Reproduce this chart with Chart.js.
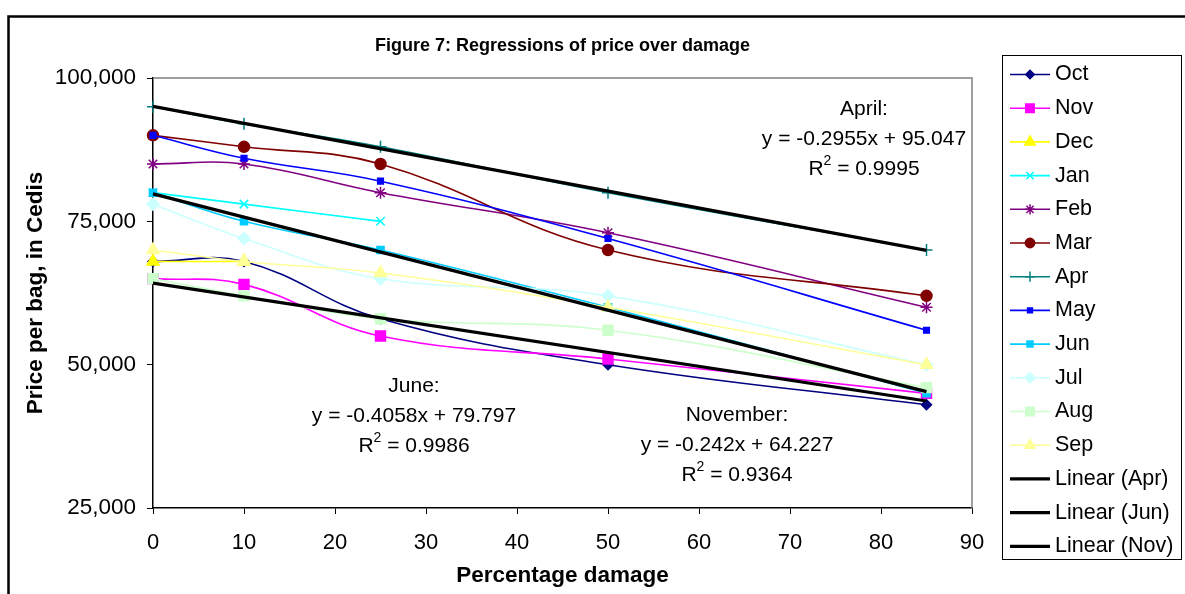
<!DOCTYPE html>
<html>
<head>
<meta charset="utf-8">
<script src="https://cdn.jsdelivr.net/npm/chart.js@4.4.1/dist/chart.umd.min.js"></script>
<style>
html, body { margin: 0; padding: 0; background: #fff; }
canvas { display: block; }
</style>
</head>
<body>
<canvas id="chart" width="1185" height="594"></canvas>
<script>
// data (price per bag, Cedis)
const damage = [0, 10, 25, 50, 85];
const months = ['Oct', 'Nov', 'Dec', 'Jan', 'Feb', 'Mar', 'Apr', 'May', 'Jun', 'Jul', 'Aug', 'Sep'];

const oct = [68000, 68000, 58000, 50000, 43000];
const nov = [65000, 64000, 55000, 51000, 45000];
const dec = [68000, 68000, null, null, null];
const jan = [80000, 78000, 75000, null, null];
const feb = [85000, 85000, 80000, 73000, 60000];
const mar = [90000, 88000, 85000, 70000, 62000];
const apr = [95000, 92000, 88000, 80000, 70000];
const may = [90000, 86000, 82000, 72000, 56000];
const jun = [80000, 75000, 70000, 60000, 45000];
const jul = [78000, 72000, 65000, 62000, 50000];
const aug = [65000, 62000, 58000, 56000, 46000];
const sep = [70000, 68000, 66000, 60000, 50000];

// trendline ends, from the equations shown on the chart
const trendX = [0, 85];
const aprTrend = [95047, 69930];
const junTrend = [79797, 45304];
const novTrend = [64227, 43657];
const trendNames = ['Linear (Apr)', 'Linear (Jun)', 'Linear (Nov)'];

const yTicks = [25000, 50000, 75000, 100000];

const FONT = '"Liberation Sans", Arial, sans-serif';

function pts(xs, ys) {
    return xs.map((x, i) => ({ x: x, y: ys[i] })).filter(p => p.y !== null);
}

const styles = [
    { c: '#000080', ps: 'rectRot', r: 5 },
    { c: '#FF00FF', ps: 'rect', r: 7 },
    { c: '#FFFF00', ps: 'triangle', r: 7 },
    { c: '#00FFFF', ps: 'crossRot', r: 6 },
    { c: '#800080', ps: 'star', r: 6 },
    { c: '#800000', ps: 'circle', r: 5.5 },
    { c: '#008080', ps: 'cross', r: 6 },
    { c: '#0000FF', ps: 'rect', r: 4 },
    { c: '#00CCFF', ps: 'rect', r: 5 },
    { c: '#CCFFFF', ps: 'rectRot', r: 6 },
    { c: '#CCFFCC', ps: 'rect', r: 7 },
    { c: '#FFFF99', ps: 'triangle', r: 7 }
];
const series = [oct, nov, dec, jan, feb, mar, apr, may, jun, jul, aug, sep];

const datasets = series.map((vals, i) => ({
    label: months[i],
    data: pts(damage, vals),
    borderColor: styles[i].c,
    backgroundColor: styles[i].c,
    pointBackgroundColor: styles[i].c,
    pointBorderColor: styles[i].c,
    pointStyle: styles[i].ps,
    pointRadius: styles[i].r,
    pointBorderWidth: 1.5,
    borderWidth: 1.6,
    showLine: true,
    tension: 0.4,
    clip: false
}));

[aprTrend, junTrend, novTrend].forEach((t, i) => {
    datasets.push({
        label: trendNames[i],
        data: pts(trendX, t),
        borderColor: '#000',
        backgroundColor: '#000',
        pointRadius: 0,
        borderWidth: 3.2,
        showLine: true,
        tension: 0,
        clip: false
    });
});
// later series on top, like the original
datasets.forEach((d, i) => d.order = datasets.length - i);

// regression labels
const notes = [
    { name: 'April:', eq: 'y = -0.2955x + 95.047', r2: '0.9995', x: 864, y: 109 },
    { name: 'June:', eq: 'y = -0.4058x + 79.797', r2: '0.9986', x: 414, y: 386 },
    { name: 'November:', eq: 'y = -0.242x + 64.227', r2: '0.9364', x: 737, y: 415 }
];

function drawR2(ctx, cx, cy, val) {
    const rest = ' = ' + val;
    ctx.font = '21px ' + FONT;
    const wR = ctx.measureText('R').width;
    const wRest = ctx.measureText(rest).width;
    ctx.font = '14px ' + FONT;
    const w2 = ctx.measureText('2').width;
    let x = cx - (wR + w2 + wRest) / 2;
    ctx.textAlign = 'left';
    ctx.font = '21px ' + FONT;
    ctx.fillText('R', x, cy);
    ctx.font = '14px ' + FONT;
    ctx.fillText('2', x + wR, cy - 8);
    ctx.font = '21px ' + FONT;
    ctx.fillText(rest, x + wR + w2, cy);
}

const decorations = {
    id: 'decorations',
    beforeDraw(chart) {
        const ctx = chart.ctx;
        ctx.save();
        ctx.fillStyle = '#fff';
        ctx.fillRect(0, 0, chart.width, chart.height);
        ctx.strokeStyle = '#000';
        ctx.lineWidth = 2.5;
        ctx.beginPath();
        ctx.moveTo(chart.width + 5, 16.5);
        ctx.lineTo(8.5, 16.5);
        ctx.lineTo(8.5, chart.height + 5);
        ctx.stroke();
        ctx.restore();
    },
    beforeDatasetsDraw(chart) {
        const ctx = chart.ctx;
        const a = chart.chartArea;
        ctx.save();
        ctx.strokeStyle = '#808080';
        ctx.lineWidth = 1.5;
        ctx.beginPath();
        ctx.moveTo(a.left, a.top);
        ctx.lineTo(a.right, a.top);
        ctx.lineTo(a.right, a.bottom);
        ctx.stroke();
        ctx.restore();
    },
    afterDraw(chart) {
        const ctx = chart.ctx;
        const a = chart.chartArea;
        ctx.save();
        ctx.fillStyle = '#000';
        ctx.textBaseline = 'middle';

        // titles
        ctx.textAlign = 'center';
        ctx.font = 'bold 18px ' + FONT;
        ctx.fillText('Figure 7: Regressions of price over damage', (a.left + a.right) / 2, 46);
        ctx.font = 'bold 22.5px ' + FONT;
        ctx.fillText('Percentage damage', (a.left + a.right) / 2, 576);
        ctx.save();
        ctx.translate(36, (a.top + a.bottom) / 2);
        ctx.rotate(-Math.PI / 2);
        ctx.fillText('Price per bag, in Cedis', 0, 0);
        ctx.restore();

        // regression notes
        notes.forEach(n => {
            ctx.textAlign = 'center';
            ctx.font = '21px ' + FONT;
            ctx.fillText(n.name, n.x, n.y);
            ctx.fillText(n.eq, n.x, n.y + 30);
            drawR2(ctx, n.x, n.y + 60, n.r2);
        });

        // legend
        ctx.strokeStyle = '#000';
        ctx.lineWidth = 1;
        ctx.strokeRect(1002.5, 55.5, 179, 504);
        chart.data.datasets.forEach((d, i) => {
            const y = 74.5 + i * 33.7;
            ctx.strokeStyle = d.borderColor;
            ctx.lineWidth = d.borderWidth;
            ctx.beginPath();
            ctx.moveTo(1010, y);
            ctx.lineTo(1050, y);
            ctx.stroke();
            if (d.pointRadius > 0 && Chart.helpers && Chart.helpers.drawPoint) {
                ctx.fillStyle = d.pointBackgroundColor;
                ctx.strokeStyle = d.pointBorderColor;
                ctx.lineWidth = d.pointBorderWidth;
                Chart.helpers.drawPoint(ctx, {
                    pointStyle: d.pointStyle,
                    radius: d.pointRadius * 0.85,
                    rotation: 0,
                    borderWidth: d.pointBorderWidth
                }, 1030, y);
            }
            ctx.fillStyle = '#000';
            ctx.textAlign = 'left';
            ctx.font = '21.5px ' + FONT;
            ctx.fillText(d.label, 1055, y);
        });
        ctx.restore();
    }
};

Chart.defaults.color = '#000';
Chart.defaults.font.family = FONT;

new Chart(document.getElementById('chart'), {
    type: 'scatter',
    data: { datasets: datasets },
    plugins: [decorations],
    options: {
        responsive: false,
        animation: false,
        devicePixelRatio: 1,
        events: [],
        layout: { padding: { top: 78, right: 213, bottom: 0, left: 0 } },
        plugins: {
            legend: { display: false },
            title: { display: false },
            tooltip: { enabled: false }
        },
        scales: {
            x: {
                type: 'linear',
                min: 0,
                max: 90,
                ticks: { stepSize: 10, font: { size: 22 }, color: '#000', padding: 16 },
                grid: { drawOnChartArea: false, tickLength: 6, color: '#000' },
                border: { color: '#000', width: 1.5 },
                afterFit: s => { s.height = 86; }
            },
            y: {
                min: 25000,
                max: 100000,
                afterBuildTicks: s => { s.ticks = yTicks.map(v => ({ value: v })); },
                ticks: {
                    font: { size: 22.5 },
                    color: '#000',
                    padding: 11,
                    callback: v => v.toLocaleString('en-US')
                },
                grid: { drawOnChartArea: false, tickLength: 6, color: '#000' },
                border: { color: '#000', width: 1.5 },
                afterFit: s => { s.width = 153; }
            }
        }
    }
});
</script>
</body>
</html>
